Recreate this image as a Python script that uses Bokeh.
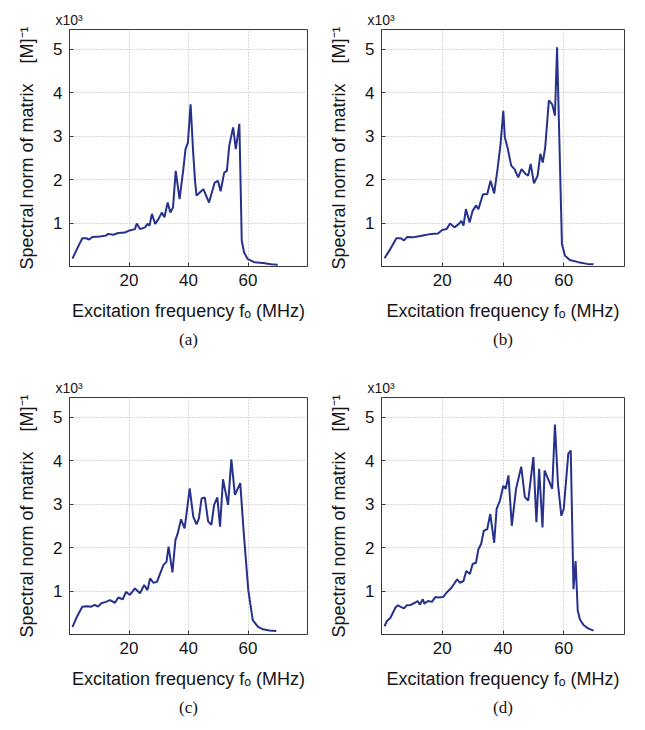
from bokeh.plotting import figure
from bokeh.layouts import column, row
from bokeh.models import FixedTicker, Title
from bokeh.embed import file_html
from bokeh.resources import INLINE

# Spectral norm (x10^3 [M]^-1) against excitation frequency (MHz), four cases
freq_a = [1, 2.5, 4.3, 5.6, 6.6, 7.7, 10.2, 12.2, 13, 14.7, 16.4, 18.6, 19.8, 20.9, 22, 22.6,
          23.7, 25.4, 26.2, 26.9, 27.7, 28.8, 29.9, 31, 31.9, 33, 33.9, 34.8, 35.7, 37, 38.2,
          39, 39.8, 40.7, 41.6, 42.2, 42.7, 43.8, 45, 46.9, 48.8, 49.9, 50.8, 52, 52.9, 53.7,
          55, 55.9, 57.1, 57.9, 58.7, 59.9, 62.1, 65, 67.8, 70]
norm_a = [0.18, 0.40, 0.65, 0.65, 0.62, 0.68, 0.69, 0.71, 0.75, 0.73, 0.77, 0.78, 0.82, 0.84,
          0.86, 0.99, 0.86, 0.90, 0.98, 0.94, 1.21, 0.98, 1.09, 1.24, 1.13, 1.47, 1.24, 1.36,
          2.20, 1.55, 2.20, 2.70, 2.85, 3.73, 2.59, 1.97, 1.63, 1.70, 1.78, 1.47, 1.93, 1.97,
          1.73, 2.16, 2.20, 2.78, 3.20, 2.70, 3.28, 0.59, 0.32, 0.17, 0.10, 0.08, 0.05, 0.04]

freq_b = [1, 2.9, 4.9, 6.3, 7.4, 8.5, 10.2, 11.9, 14.1, 16.4, 18.6, 20, 21.4, 22.6, 24.0, 25.5,
          26.3, 27, 27.8, 29, 30, 31.1, 31.9, 33.4, 34.8, 35.9, 37.1, 38.2, 39.2, 40.1, 40.6,
          41.6, 42.7, 43.8, 45, 46.1, 47.4, 48.3, 49.1, 50.2, 51.4, 52.3, 53.1, 53.9, 55.1,
          56.2, 57.1, 57.8, 59.4, 60.4, 62, 64.8, 67.7, 69.8]
norm_b = [0.19, 0.40, 0.65, 0.65, 0.60, 0.68, 0.67, 0.69, 0.72, 0.75, 0.76, 0.84, 0.86, 0.99,
          0.90, 0.98, 1.05, 0.94, 1.32, 1.01, 1.28, 1.40, 1.32, 1.66, 1.66, 1.97, 1.68, 2.24,
          2.82, 3.58, 2.97, 2.70, 2.32, 2.24, 2.05, 2.24, 2.13, 2.09, 2.36, 1.91, 2.09, 2.59,
          2.39, 2.74, 3.82, 3.73, 3.47, 5.04, 0.52, 0.25, 0.15, 0.10, 0.06, 0.05]

freq_c = [1, 2.5, 4.3, 5.9, 7.3, 8.5, 9.6, 10.7, 12.2, 13.6, 15.3, 16.4, 17.9, 19, 20.3, 22,
          23.7, 25.1, 26.2, 27.1, 28.2, 29.4, 30.4, 31.6, 32.6, 33.3, 34.6, 35.6, 36.4, 37.5,
          38.7, 40.4, 41.6, 42.7, 43.5, 44.4, 45.5, 46.6, 47.7, 48.6, 49.7, 50.6, 51.6, 53.3,
          54.4, 55.6, 57.4, 58.5, 60.1, 61.6, 63.3, 65, 67.2, 69.5]
norm_c = [0.17, 0.41, 0.64, 0.65, 0.64, 0.68, 0.64, 0.72, 0.75, 0.79, 0.73, 0.85, 0.81, 0.98,
          0.91, 1.06, 0.95, 1.14, 1.02, 1.29, 1.19, 1.21, 1.39, 1.60, 1.67, 2.02, 1.43, 2.17,
          2.33, 2.65, 2.44, 3.36, 2.71, 2.53, 2.67, 3.13, 3.15, 2.60, 2.52, 2.98, 3.15, 2.48,
          3.57, 2.98, 4.03, 3.21, 3.48, 2.40, 1.02, 0.33, 0.18, 0.12, 0.09, 0.08]

freq_d = [1, 1.8, 2.9, 4.6, 5.4, 6.5, 7.4, 8.3, 9.6, 11, 11.9, 12.6, 13.6, 14.1, 15.3, 16.6,
          17.7, 18.6, 20.3, 21.4, 23.1, 24.9, 25.8, 27, 27.9, 29.1, 30, 31.1, 31.9, 32.8, 33.7,
          34.8, 35.8, 37.1, 37.9, 39, 40.1, 40.9, 41.8, 42.9, 44.3, 46, 47.2, 48.3, 50, 51,
          51.9, 53, 53.7, 55.1, 56.2, 57.1, 58.1, 59.2, 60, 61.5, 62.3, 63.2, 63.9, 64.6, 65.3,
          66.5, 68, 69.8]
norm_d = [0.19, 0.31, 0.38, 0.62, 0.67, 0.63, 0.60, 0.67, 0.68, 0.73, 0.77, 0.69, 0.81, 0.71,
          0.77, 0.75, 0.86, 0.85, 0.86, 0.96, 1.08, 1.27, 1.19, 1.23, 1.46, 1.39, 1.62, 1.65,
          1.96, 2.08, 2.39, 2.42, 2.77, 2.11, 2.89, 3.08, 3.42, 3.35, 3.66, 2.50, 3.35, 3.86,
          3.16, 3.08, 4.08, 2.58, 3.81, 2.46, 3.77, 3.54, 3.35, 4.83, 3.46, 2.73, 2.89, 4.16,
          4.23, 1.04, 1.69, 0.55, 0.35, 0.22, 0.14, 0.09]

x_ticks = [20, 40, 60]
y_ticks = [1, 2, 3, 4, 5]
captions = ["(a)", "(b)", "(c)", "(d)"]

X_LABEL = "Excitation frequency f\u2092 (MHz)"
Y_LABEL = "Spectral norm of matrix\u00a0\u00a0\u00a0\u00a0[M]\u207b\u00b9"
LINE_COLOR = "#26318c"
FRAME_COLOR = "#3a3a3a"
TEXT_COLOR = "#151515"
SANS = "Liberation Sans"


def panel(freq, vals, caption, left_col, top_row):
    fw = 238 if left_col else 243
    p = figure(
        width=311 if left_col else 334,
        height=365,
        x_range=(0, 80), y_range=(0, 5.45),
        output_backend="svg", toolbar_location=None,
        min_border_left=69 if left_col else 70,
        min_border_right=4 if left_col else 21,
        min_border_top=29 if top_row else 32,
        min_border_bottom=99 if top_row else 96,
        frame_width=fw, frame_height=237,
    )
    p.line(freq, vals, line_color=LINE_COLOR, line_width=2)

    p.outline_line_color = FRAME_COLOR
    p.outline_line_width = 1
    p.background_fill_color = "white"
    p.border_fill_color = "white"

    for ax in (p.xaxis, p.yaxis):
        ax.axis_line_color = FRAME_COLOR
        ax.major_tick_line_color = FRAME_COLOR
        ax.major_tick_in = 4
        ax.major_tick_out = 0
        ax.minor_tick_line_color = None
        ax.major_label_text_font = SANS
        ax.major_label_text_font_size = "17px"
        ax.major_label_text_color = TEXT_COLOR
        ax.axis_label_text_font = SANS
        ax.axis_label_text_font_size = "18px"
        ax.axis_label_text_font_style = "normal"
        ax.axis_label_text_color = TEXT_COLOR

    p.xaxis.ticker = FixedTicker(ticks=x_ticks)
    p.yaxis.ticker = FixedTicker(ticks=y_ticks)
    p.xaxis.major_label_standoff = 7
    p.yaxis.major_label_standoff = 7
    p.xaxis.axis_label = X_LABEL
    p.yaxis.axis_label = Y_LABEL
    p.xaxis.axis_label_standoff = 12
    p.yaxis.axis_label_standoff = 13

    for g in (p.xgrid, p.ygrid):
        g.grid_line_color = "#b5b5b5"
        g.grid_line_dash = "1 2"
        g.grid_line_width = 1
    p.xgrid.ticker = FixedTicker(ticks=x_ticks)
    p.ygrid.ticker = FixedTicker(ticks=y_ticks)

    # exponent marker above the y axis
    p.add_layout(Title(text="x10\u00b3", align="left", offset=-14, standoff=3,
                       text_font=SANS, text_font_size="14px",
                       text_font_style="normal", text_color=TEXT_COLOR), "above")
    # panel caption below the x axis label
    p.add_layout(Title(text=caption, align="center", standoff=8,
                       text_font="Liberation Serif", text_font_size="17px",
                       text_font_style="normal", text_color=TEXT_COLOR), "below")
    return p


pa = panel(freq_a, norm_a, captions[0], True, True)
pb = panel(freq_b, norm_b, captions[1], False, True)
pc = panel(freq_c, norm_c, captions[2], True, False)
pd = panel(freq_d, norm_d, captions[3], False, False)

layout = column(row(pa, pb), row(pc, pd))

open("out.html", "w").write(file_html(layout, INLINE))
